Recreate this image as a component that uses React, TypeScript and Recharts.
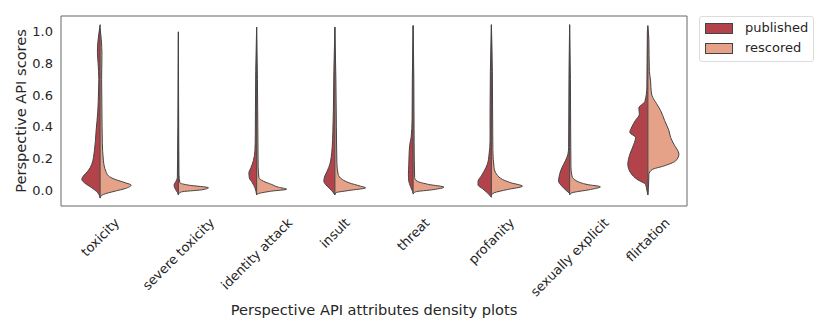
import React from "react";
import {
  ComposedChart,
  Area,
  XAxis,
  YAxis,
  ReferenceLine,
  ReferenceArea,
} from "recharts";

const categories = [
  "toxicity",
  "severe toxicity",
  "identity attack",
  "insult",
  "threat",
  "profanity",
  "sexually explicit",
  "flirtation",
];

const seriesNames = ["published", "rescored"];
const seriesColors = ["#b2434b", "#e6a189"];

// [score, density] pairs per attribute
const published: [number, number][][] = [
  [[-0.05, 0], [-0.017, 2.3], [0.015, 8.3], [0.047, 15.7], [0.068, 18.3], [0.09, 16.7], [0.12, 12.3], [0.164, 8.3], [0.25, 5.7], [0.376, 4], [0.5, 2.3], [0.62, 1.6], [0.7, 1.3], [0.8, 2], [0.87, 2.7], [0.94, 2.2], [1.0, 1], [1.045, 0]],
  [[-0.03, 0], [-0.017, 0.7], [0.01, 3.3], [0.032, 4.3], [0.057, 2.3], [0.08, 1], [0.2, 0.8], [0.4, 0.5], [0.7, 0.3], [1.0, 0]],
  [[-0.03, 0], [0.015, 1.7], [0.047, 4.3], [0.078, 7.3], [0.11, 7.7], [0.142, 5.7], [0.185, 3.3], [0.25, 1.7], [0.35, 1.3], [0.5, 1.2], [0.75, 0.9], [1.03, 0]],
  [[-0.03, 0], [-0.002, 3.3], [0.025, 7.7], [0.057, 11], [0.09, 10], [0.12, 7.7], [0.164, 5], [0.206, 3.7], [0.27, 2.7], [0.37, 2], [0.5, 1.5], [0.75, 1], [1.03, 0]],
  [[-0.02, 0], [-0.006, 0.7], [0.025, 2.7], [0.057, 4.3], [0.1, 4.7], [0.164, 4.3], [0.227, 4], [0.29, 3.3], [0.333, 2], [0.45, 1], [0.7, 0.8], [1.04, 0]],
  [[-0.045, 0], [-0.017, 4], [0.01, 9], [0.032, 13.3], [0.057, 13.3], [0.09, 10], [0.12, 7.3], [0.164, 4], [0.227, 2.3], [0.31, 1.3], [0.5, 1.3], [0.75, 1], [1.045, 0]],
  [[-0.02, 0], [-0.006, 2.7], [0.025, 7.7], [0.057, 11], [0.1, 10], [0.142, 7.7], [0.185, 4.3], [0.227, 1.7], [0.27, 1], [0.5, 0.8], [0.75, 0.6], [1.045, 0]],
  [[-0.03, 0], [0.0, 1], [0.036, 2.3], [0.068, 10.7], [0.11, 17.3], [0.164, 20], [0.227, 18], [0.29, 14], [0.333, 12.3], [0.365, 18], [0.4, 16], [0.44, 12.5], [0.48, 8.5], [0.52, 9], [0.56, 3], [0.65, 1], [0.8, 0.8], [1.0, 0.5], [1.04, 0]],
];

const rescored: [number, number][][] = [
  [[-0.045, 0], [-0.027, 3.3], [-0.006, 15], [0.01, 25], [0.032, 31], [0.047, 25], [0.068, 15], [0.09, 8.3], [0.12, 5.7], [0.185, 3.3], [0.3, 2.2], [0.5, 1.8], [0.7, 1.5], [0.85, 1.8], [0.95, 1.2], [1.02, 0]],
  [[-0.025, 0], [-0.011, 3], [0.002, 23], [0.015, 30], [0.032, 10], [0.047, 1.5], [0.1, 0.6], [0.3, 0.4], [0.6, 0.2], [1.0, 0]],
  [[-0.03, 0], [-0.024, 1], [-0.006, 15], [0.006, 30], [0.019, 21.7], [0.036, 15], [0.057, 6.7], [0.078, 2.3], [0.15, 1.5], [0.4, 1.2], [0.7, 0.8], [1.03, 0]],
  [[-0.03, 0], [-0.017, 0.7], [-0.002, 14], [0.015, 30.7], [0.025, 25.7], [0.047, 14], [0.068, 7.3], [0.1, 3.3], [0.17, 2], [0.4, 1.5], [0.7, 1], [1.03, 0]],
  [[-0.025, 0], [-0.011, 2.3], [0.004, 20.7], [0.019, 30.7], [0.036, 15.7], [0.057, 4], [0.08, 1.5], [0.3, 1], [0.7, 0.7], [1.04, 0]],
  [[-0.03, 0], [-0.017, 2.7], [0.004, 16], [0.025, 31], [0.047, 19.3], [0.068, 11], [0.1, 5.3], [0.142, 2.7], [0.25, 1.5], [0.5, 1.2], [0.75, 1], [1.045, 0]],
  [[-0.03, 0], [-0.017, 2.3], [0.004, 20.7], [0.021, 30.7], [0.036, 17.3], [0.057, 7.3], [0.09, 2.3], [0.15, 1.3], [0.4, 1], [0.7, 0.8], [1.045, 0]],
  [[-0.03, 0], [0.05, 0.8], [0.1, 1], [0.13, 4.3], [0.153, 16], [0.185, 27.7], [0.227, 31], [0.29, 26], [0.333, 22.7], [0.376, 21], [0.44, 16.7], [0.503, 12.7], [0.546, 8.7], [0.6, 4], [0.65, 3], [0.69, 2.7], [0.75, 1.5], [0.85, 1.2], [0.95, 1], [1.03, 0]],
];

const yTicks = [0, 0.2, 0.4, 0.6, 0.8, 1.0];

const DENSITY_SCALE = 0.0128;
const FONT = "'DejaVu Sans', sans-serif";
const TEXT = "#262626";
const EDGE = "#444";
const TICK_SIZE = 13;
const LABEL_SIZE = 14.6;

function halfData(points: [number, number][], idx: number, side: number) {
  return points.map(([score, d]) => ({ score, x: idx + side * d * DENSITY_SCALE }));
}

let measureCtx: CanvasRenderingContext2D | null = null;
function textWidth(s: string, size: number) {
  if (!measureCtx) measureCtx = document.createElement("canvas").getContext("2d");
  if (!measureCtx) return s.length * size * 0.6;
  measureCtx.font = `${size}px 'DejaVu Sans'`;
  return measureCtx.measureText(s).width;
}

// rotated 45°, centred on the tick like matplotlib's ha="center"
function CategoryTick(props: any) {
  const { x, y, payload } = props;
  const label = categories[payload.value];
  const w = textWidth(label, TICK_SIZE);
  const h = TICK_SIZE * 1.16;
  const cx = x;
  const cy = y + 1 + (w + h) * 0.3536;
  return (
    <text
      x={cx}
      y={cy}
      dy="0.35em"
      textAnchor="middle"
      transform={`rotate(-45 ${cx} ${cy})`}
      fontSize={TICK_SIZE}
      fontFamily={FONT}
      fill={TEXT}
    >
      {label}
    </text>
  );
}

export default function App() {
  const halves = [published, rescored];
  return (
    <div style={{ position: "absolute", left: 0, top: 0, width: 830, height: 332, fontFamily: FONT }}>
      <ComposedChart
        width={830}
        height={332}
        layout="vertical"
        margin={{ top: 16, right: 143, left: 0, bottom: 0 }}
      >
        <XAxis
          type="number"
          dataKey="x"
          domain={[-0.5, 7.5]}
          allowDataOverflow
          ticks={categories.map((_, i) => i)}
          interval={0}
          tick={<CategoryTick />}
          tickLine={false}
          axisLine={false}
          height={126}
          label={{
            value: "Perspective API attributes density plots",
            position: "insideBottom",
            offset: 17,
            fontSize: LABEL_SIZE,
            fill: TEXT,
            fontFamily: FONT,
          }}
        />
        <YAxis
          type="number"
          dataKey="score"
          domain={[-0.1, 1.1]}
          allowDataOverflow
          reversed
          ticks={yTicks}
          tickFormatter={(v: number) => v.toFixed(1)}
          tickLine={false}
          axisLine={false}
          width={61}
          tick={{ fontSize: TICK_SIZE, fill: TEXT, fontFamily: FONT }}
          label={{
            value: "Perspective API scores",
            angle: -90,
            position: "insideLeft",
            offset: 21,
            fontSize: LABEL_SIZE,
            fill: TEXT,
            fontFamily: FONT,
            style: { textAnchor: "middle" },
          }}
        />
        <ReferenceArea
          x1={-0.5}
          x2={7.5}
          y1={-0.1}
          y2={1.1}
          fill="none"
          stroke="#666"
          strokeWidth={1}
        />
        {halves.map((series, s) =>
          series.map((pts, i) => (
            <Area
              key={`${seriesNames[s]}-${i}`}
              data={halfData(pts, i, s === 0 ? -1 : 1)}
              dataKey="x"
              baseValue={i}
              type="monotone"
              fill={seriesColors[s]}
              fillOpacity={1}
              stroke={EDGE}
              strokeWidth={1}
              dot={false}
              activeDot={false}
              isAnimationActive={false}
            />
          ))
        )}
        {categories.map((_, i) => {
          const all = [...published[i], ...rescored[i]].map((p) => p[0]);
          return (
            <ReferenceLine
              key={`c-${i}`}
              segment={[
                { x: i, y: Math.min(...all) },
                { x: i, y: Math.max(...all) },
              ]}
              stroke={EDGE}
              strokeWidth={1}
            />
          );
        })}
      </ComposedChart>
      <div
        style={{
          position: "absolute",
          left: 699,
          top: 16,
          width: 113,
          height: 44,
          border: "1px solid #dcdcdc",
          borderRadius: 3,
          background: "#fff",
          fontSize: TICK_SIZE,
          color: TEXT,
        }}
      >
        {seriesNames.map((name, s) => (
          <div
            key={name}
            style={{ position: "absolute", left: 5, top: 6 + s * 20, height: 10, display: "flex", alignItems: "center" }}
          >
            <span
              style={{
                display: "inline-block",
                width: 26,
                height: 9,
                background: seriesColors[s],
                border: `1px solid ${EDGE}`,
                marginRight: 12,
              }}
            />
            <span style={{ lineHeight: "10px" }}>{name}</span>
          </div>
        ))}
      </div>
    </div>
  );
}
